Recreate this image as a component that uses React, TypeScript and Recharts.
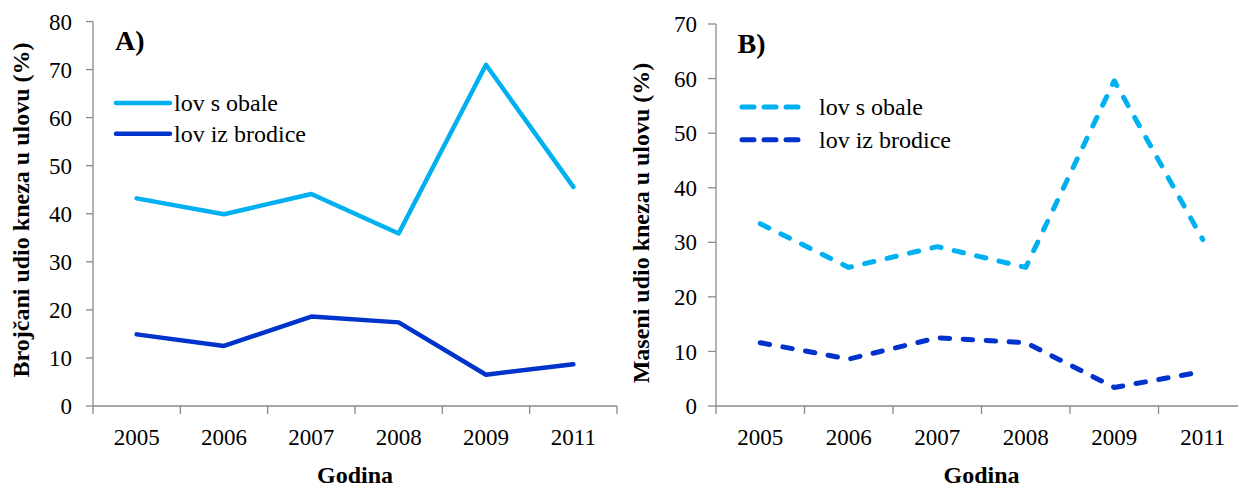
import React from "react";
import { LineChart, Line, XAxis, YAxis, Legend, Label } from "recharts";

// categories (x axis)
const years = ["2005", "2006", "2007", "2008", "2009", "2011"];
const seriesNames = ["lov s obale", "lov iz brodice"];

// A) Brojčani udio (%)
const countShore = [43.2, 39.9, 44.1, 35.9, 71.0, 45.6];
const countBoat = [14.9, 12.5, 18.6, 17.4, 6.5, 8.7];
const countTicks = [0, 10, 20, 30, 40, 50, 60, 70, 80];

// B) Maseni udio (%)
const massShore = [33.4, 25.4, 29.2, 25.4, 59.6, 30.5];
const massBoat = [11.6, 8.6, 12.5, 11.6, 3.4, 6.3];
const massTicks = [0, 10, 20, 30, 40, 50, 60, 70];

const LIGHT = "#00B0F0";
const DARK = "#0033CC";
const AXIS = "#8a8a8a";
const FONT = "'Liberation Serif', 'Times New Roman', serif";

// ticks between categories (Excel style), labels in the middle
const xTicks = years.flatMap((_, i) => [i, i + 0.5]).concat(years.length);

const YearTick = (props: any) => {
  const { x, y, payload } = props;
  const v = payload.value as number;
  if (Number.isInteger(v)) {
    return <line x1={x} x2={x} y1={y} y2={y + 8} stroke={AXIS} strokeWidth={1.3} />;
  }
  return (
    <text x={x} y={y + 39} textAnchor="middle" fontSize={23} fontFamily={FONT} fill="#000">
      {years[Math.floor(v)]}
    </text>
  );
};

type PanelProps = {
  tag: string;
  yTitle: string;
  shore: number[];
  boat: number[];
  yTicks: number[];
  width: number;
  yAxisWidth: number;
  top: number;
  right: number;
  yTickSize: number;
  yTickMargin: number;
  titleY: number;
  tagX: number;
  tagY: number;
  legendLeft: number;
  legendTop: number;
  legendLine: number;
  legendRow: number;
  legendText: number;
  dash?: string;
  legendDash?: string;
};

const Panel: React.FC<PanelProps> = (p) => {
  const data = years.map((year, i) => ({
    x: i + 0.5,
    year,
    shore: p.shore[i],
    boat: p.boat[i],
  }));
  const sw = p.dash ? 5 : 4.5;

  const renderLegend = (props: any) => {
    // keep the series order (shore first), not alphabetical
    const payload = [...(props.payload || [])].sort(
      (a: any, b: any) => seriesNames.indexOf(a.value) - seriesNames.indexOf(b.value)
    );
    return (
      <svg width={260} height={80} style={{ display: "block", overflow: "visible" }}>
        {payload.map((e: any, i: number) => {
          const cy = 18 + i * p.legendRow;
          return (
            <g key={i}>
              <line
                x1={6}
                x2={6 + p.legendLine}
                y1={cy}
                y2={cy}
                stroke={e.color}
                strokeWidth={sw}
                strokeDasharray={p.legendDash}
                strokeLinecap="round"
              />
              <text x={p.legendText} y={cy + 8} fontSize={24} fontFamily={FONT} fill="#000">
                {e.value}
              </text>
            </g>
          );
        })}
      </svg>
    );
  };

  return (
    <LineChart
      width={p.width}
      height={488}
      data={data}
      margin={{ top: p.top, right: p.right, bottom: 0, left: 0 }}
    >
      <XAxis
        type="number"
        dataKey="x"
        domain={[0, years.length]}
        ticks={xTicks}
        interval={0}
        tickSize={0}
        tickMargin={0}
        tickLine={false}
        tick={YearTick}
        height={82}
        axisLine={{ stroke: AXIS, strokeWidth: 1.3 }}
      >
        <Label
          content={(lp: any) => {
            const vb = lp.viewBox;
            return (
              <text
                x={vb.x + vb.width / 2}
                y={vb.y + 77}
                textAnchor="middle"
                fontSize={24}
                fontWeight="bold"
                fontFamily={FONT}
                fill="#000"
              >
                Godina
              </text>
            );
          }}
        />
      </XAxis>
      <YAxis
        type="number"
        domain={[0, p.yTicks[p.yTicks.length - 1]]}
        ticks={p.yTicks}
        interval={0}
        width={p.yAxisWidth}
        tickSize={p.yTickSize}
        tickMargin={p.yTickMargin}
        tick={{ fontSize: 23, fontFamily: FONT, fill: "#000" }}
        tickLine={{ stroke: AXIS, strokeWidth: 1.3 }}
        axisLine={{ stroke: AXIS, strokeWidth: 1.3 }}
      >
        <Label
          content={() => (
            <g>
              <text
                transform={`translate(28.5, ${p.titleY}) rotate(-90)`}
                textAnchor="middle"
                fontSize={24}
                fontWeight="bold"
                fontFamily={FONT}
                fill="#000"
              >
                {p.yTitle}
              </text>
              <text
                x={p.tagX}
                y={p.tagY}
                fontSize={28}
                fontWeight="bold"
                fontFamily={FONT}
                fill="#000"
              >
                {p.tag}
              </text>
            </g>
          )}
        />
      </YAxis>
      <Legend
        verticalAlign="middle"
        align="center"
        content={renderLegend}
        wrapperStyle={{ left: p.legendLeft, top: p.legendTop, width: 260, height: 80 }}
      />
      <Line
        type="linear"
        dataKey="shore"
        name={seriesNames[0]}
        stroke={LIGHT}
        strokeWidth={sw}
        strokeDasharray={p.dash}
        strokeLinecap="round"
        strokeLinejoin="round"
        dot={false}
        activeDot={false}
        isAnimationActive={false}
      />
      <Line
        type="linear"
        dataKey="boat"
        name={seriesNames[1]}
        stroke={DARK}
        strokeWidth={sw}
        strokeDasharray={p.dash}
        strokeLinecap="round"
        strokeLinejoin="round"
        dot={false}
        activeDot={false}
        isAnimationActive={false}
      />
    </LineChart>
  );
};

export default function App() {
  return (
    <div
      style={{
        position: "absolute",
        left: 0,
        top: 0,
        width: 1238,
        height: 488,
        overflow: "hidden",
        background: "#fff",
      }}
    >
      <div style={{ position: "absolute", left: 0, top: 0 }}>
        <Panel
          tag="A)"
          yTitle="Brojčani udio kneza u ulovu (%)"
          shore={countShore}
          boat={countBoat}
          yTicks={countTicks}
          width={620}
          yAxisWidth={93}
          top={21.5}
          right={3}
          yTickSize={7}
          yTickMargin={14}
          titleY={210}
          tagX={115}
          tagY={50}
          legendLeft={110}
          legendTop={85}
          legendLine={54}
          legendRow={30.7}
          legendText={64}
        />
      </div>
      <div style={{ position: "absolute", left: 620, top: 0 }}>
        <Panel
          tag="B)"
          yTitle="Maseni udio kneza u ulovu (%)"
          shore={massShore}
          boat={massBoat}
          yTicks={massTicks}
          width={640}
          yAxisWidth={96}
          top={24}
          right={13}
          yTickSize={8}
          yTickMargin={11}
          titleY={223}
          tagX={117.5}
          tagY={53}
          legendLeft={116}
          legendTop={89}
          legendLine={62}
          legendRow={32.7}
          legendText={83}
          dash="9.5 13.5"
          legendDash="12 10"
        />
      </div>
    </div>
  );
}
